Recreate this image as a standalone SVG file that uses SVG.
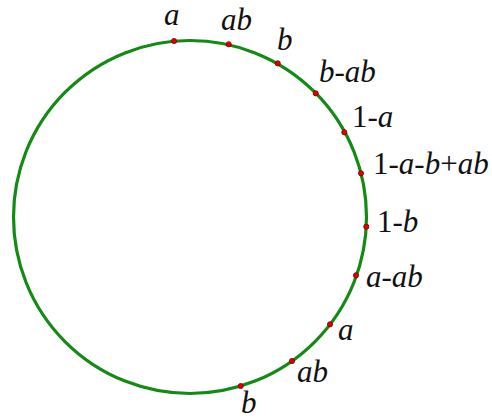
<svg xmlns="http://www.w3.org/2000/svg" width="492" height="419" viewBox="0 0 492 419">
<style>
.c{fill:none;stroke:#138a13;stroke-width:3.2}
.d{fill:#e00000;stroke:#800000;stroke-width:0.8}
.t{font-family:"Liberation Serif","Times New Roman",serif;font-size:31px;fill:#111}
.i{font-style:italic}
</style>
<rect width="492" height="419" fill="#fff"/>
<g id="connectors">
<circle class="c" cx="190" cy="217" r="176.5"/>
</g>
<g id="points">
<circle class="d" cx="174" cy="41" r="2.6"/>
<circle class="d" cx="228.7" cy="44.3" r="2.6"/>
<circle class="d" cx="277.7" cy="63.3" r="2.6"/>
<circle class="d" cx="315.7" cy="93.3" r="2.6"/>
<circle class="d" cx="344.3" cy="132.3" r="2.6"/>
<circle class="d" cx="361" cy="173.3" r="2.6"/>
<circle class="d" cx="366.3" cy="226.7" r="2.6"/>
<circle class="d" cx="356" cy="275.3" r="2.6"/>
<circle class="d" cx="330" cy="324.3" r="2.6"/>
<circle class="d" cx="292" cy="361" r="2.6"/>
<circle class="d" cx="240.7" cy="386" r="2.6"/>
</g>
<g id="labels">
<text class="t i" x="164" y="25">a</text>
<text class="t i" x="221" y="30">ab</text>
<text class="t i" x="277" y="50">b</text>
<text class="t" x="319" y="81.7"><tspan class="i">b</tspan>-<tspan class="i">ab</tspan></text>
<text class="t" x="352" y="126.7">1-<tspan class="i">a</tspan></text>
<text class="t" x="373" y="174.3">1-<tspan class="i">a</tspan>-<tspan class="i">b</tspan>+<tspan class="i">ab</tspan></text>
<text class="t" x="377" y="231.7">1-<tspan class="i">b</tspan></text>
<text class="t" x="366" y="286.7"><tspan class="i">a</tspan>-<tspan class="i">ab</tspan></text>
<text class="t i" x="338" y="340">a</text>
<text class="t i" x="297" y="381.7">ab</text>
<text class="t i" x="241" y="413.3">b</text>
</g>
</svg>
